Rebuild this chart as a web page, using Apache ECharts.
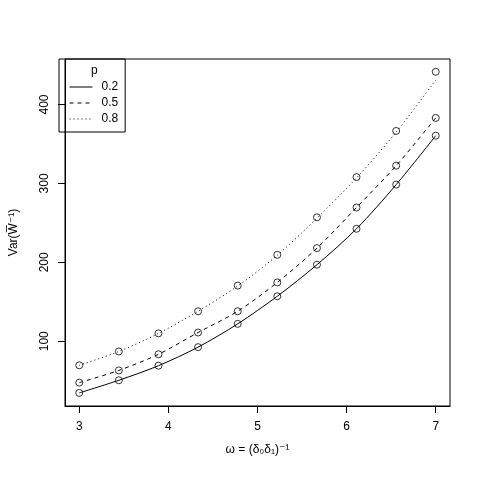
<!DOCTYPE html>
<html>
<head>
<meta charset="utf-8">
<script src="https://cdn.jsdelivr.net/npm/echarts@6/dist/echarts.min.js"></script>
<style>
  html, body { margin: 0; padding: 0; background: #fff; }
  #chart { width: 480px; height: 480px; }
</style>
</head>
<body>
<div id="chart"></div>
<script>
// x positions of the points
const omega = [3, 3.444, 3.889, 4.333, 4.778, 5.222, 5.667, 6.111, 6.556, 7];
// simulated points (circles)
const p02Pts = [34.5, 50.5, 69, 92.5, 122, 157, 197, 242.5, 298.5, 360.5];
const p05Pts = [47.5, 63, 83.5, 111, 138, 174.5, 218, 269.5, 322.5, 383];
const p08Pts = [69.5, 87, 110, 138, 170.5, 209.5, 257, 308, 366.5, 441.5];
// theoretical curves
const p02Curve = [34.5, 50.5, 69, 92.5, 122, 157, 197, 242.5, 298.5, 360.5];
const p05Curve = [47.5, 63, 83.5, 111, 138, 174.5, 218, 269.5, 322.5, 383];
const p08Curve = [69.5, 87, 110, 138, 170, 209, 256, 307, 365, 431];
const pLabels = ['0.2', '0.5', '0.8'];
const xTicks = [3, 4, 5, 6, 7];
const yTicks = [100, 200, 300, 400];

const font = 'Liberation Sans, Arial, DejaVu Sans, sans-serif';
const pair = (xs, ys) => xs.map((x, i) => [x, ys[i]]);

const lineSeries = (name, data, dash) => ({
  name: name,
  type: 'line',
  data: pair(omega, data),
  smooth: 0.3,
  symbol: 'none',
  lineStyle: { color: '#000', width: 1, type: dash },
  itemStyle: { color: '#000' },
  z: 2
});
const pointSeries = (name, data) => ({
  name: name,
  type: 'scatter',
  data: pair(omega, data),
  symbol: 'circle',
  symbolSize: 7,
  itemStyle: { color: 'transparent', borderColor: '#000', borderWidth: 1 },
  z: 3
});

const chart = echarts.init(document.getElementById('chart'));
chart.setOption({
  animation: false,
  textStyle: { fontFamily: font },
  title: {
    text: 'p',
    left: 86,
    top: 60,
    textStyle: { fontSize: 12, fontWeight: 'normal', color: '#000', fontFamily: font }
  },
  legend: {
    data: pLabels,
    orient: 'vertical',
    left: 59,
    top: 59,
    padding: [22, 7, 7, 10],
    itemWidth: 23,
    itemHeight: 10,
    itemGap: 4,
    borderColor: '#000',
    borderWidth: 1,
    itemStyle: { opacity: 0 },
    lineStyle: { width: 1 },
    textStyle: { fontSize: 12, color: '#000', fontFamily: font, padding: [0, 0, 0, 4] }
  },
  grid: {
    left: 59,
    right: 30,
    top: 59,
    bottom: 74,
    show: true,
    borderColor: '#000',
    borderWidth: 1,
    backgroundColor: 'transparent'
  },
  xAxis: {
    type: 'value',
    min: 2.84,
    max: 7.16,
    name: 'ω = (δ₀δ₁)⁻¹',
    nameLocation: 'middle',
    nameGap: 38,
    nameTextStyle: { fontSize: 12, color: '#000', fontFamily: font },
    axisLine: { show: true, lineStyle: { color: '#000' } },
    axisTick: { show: true, length: 7, customValues: xTicks, lineStyle: { color: '#000' } },
    axisLabel: { customValues: xTicks, margin: 15, fontSize: 12, color: '#000', fontFamily: font },
    splitLine: { show: false }
  },
  yAxis: {
    type: 'value',
    min: 17.9,
    max: 457.7,
    name: 'Var(W̅⁻¹)',
    nameLocation: 'middle',
    nameGap: 45,
    nameRotate: 90,
    nameTextStyle: { fontSize: 12, color: '#000', fontFamily: font },
    axisLine: { show: true, lineStyle: { color: '#000' } },
    axisTick: { show: true, length: 7, customValues: yTicks, lineStyle: { color: '#000' } },
    axisLabel: { customValues: yTicks, rotate: 90, margin: 14, fontSize: 12, color: '#000', fontFamily: font },
    splitLine: { show: false }
  },
  series: [
    lineSeries(pLabels[0], p02Curve, 'solid'),
    lineSeries(pLabels[1], p05Curve, [4, 4]),
    lineSeries(pLabels[2], p08Curve, [1, 3]),
    pointSeries('pts 0.2', p02Pts),
    pointSeries('pts 0.5', p05Pts),
    pointSeries('pts 0.8', p08Pts)
  ]
});
</script>
</body>
</html>
